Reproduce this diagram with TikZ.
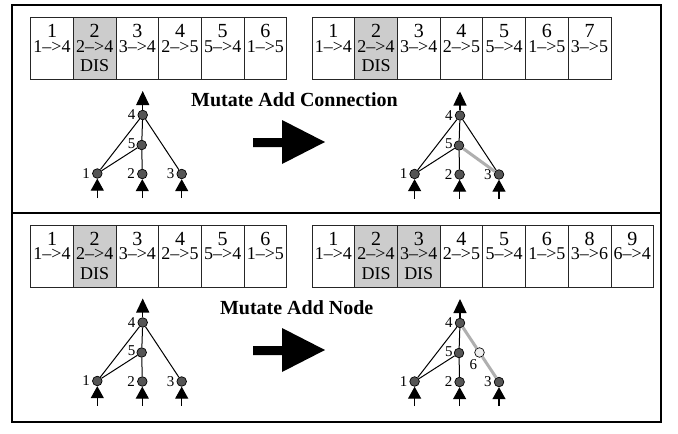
\documentclass[tikz,border=0pt]{standalone}
\usepackage{fontspec}
\setmainfont{Liberation Serif}
\usetikzlibrary{arrows.meta,calc}
\definecolor{nodegray}{HTML}{555555}
\definecolor{cellgray}{HTML}{CCCCCC}
\definecolor{newgray}{HTML}{AFAFAF}
\definecolor{lightnode}{HTML}{EEEEEE}
\newcommand{\gcell}[6]{% name, x, y, number, connection, fill
  \node[cell, anchor=north west, fill=#6] (#1) at (#2,#3) {};
  \node[numtxt, anchor=base] (#1a) at ($(#1.north)+(0,20)$) {#4};
  \node[conntxt, anchor=base] (#1b) at ($(#1.north)+(0,34.8)$) {#5};
}
\newcommand{\gdis}[1]{%
  \node[conntxt, anchor=base] (#1c) at ($(#1.north)+(0,54.4)$) {DIS};
}
\newcommand{\netnodes}[3]{% prefix, x, y
  \begin{scope}[shift={(#2,#3)}]
    \node[nn, label={[lab]left:4}] (#1n4) at (0,0) {};
    \node[nn, label={[lab,yshift=1.5pt,xshift=1pt]left:5}] (#1n5) at (-1,30) {};
    \node[nn, label={[lab]left:1}] (#1n1) at (-45.4,58.5) {};
    \node[nn, label={[lab]left:2}] (#1n2) at (-0.4,59) {};
    \node[nn, label={[lab]left:3}] (#1n3) at (39,59) {};
    \coordinate (#1out) at (0,-24);
    \coordinate (#1i1) at (-45.4,83);
    \coordinate (#1i2) at (-0.4,83);
    \coordinate (#1i3) at (39,83);
  \end{scope}
  \draw[edge] (#1n1) -- (#1n4);
  \draw[edge] (#1n1) -- (#1n5);
  \draw[edge] (#1n5) -- (#1n4);
  \draw[edge] (#1n2) -- (#1n5);
  \draw[outarr] (#1n4) -- (#1out);
  \draw[inarr] (#1i1) -- (#1n1);
  \draw[inarr] (#1i2) -- (#1n2);
  \draw[inarr] (#1i3) -- (#1n3);
}
\begin{document}
\begin{tikzpicture}[x=1pt,y=-1pt,
  label distance=1.5pt,
  frame/.style={draw=black,line width=2.5pt},
  cell/.style={draw=black!85, line width=0.8pt, minimum width=42.7pt, minimum height=62pt, inner sep=0pt, outer sep=0pt},
  numtxt/.style={font=\fontsize{20}{20}\selectfont, inner sep=0pt},
  conntxt/.style={font=\fontsize{18}{18}\selectfont, inner sep=0pt},
  titletxt/.style={font=\fontsize{20}{20}\selectfont\bfseries, inner sep=0pt},
  nn/.style={circle, draw=black, fill=nodegray, line width=0.7pt, minimum size=9.6pt, inner sep=0pt},
  newnode/.style={nn, fill=lightnode},
  lab/.style={font=\fontsize{15}{15}\selectfont, inner sep=0.5pt},
  edge/.style={line width=1pt},
  newedge/.style={line width=3pt, draw=newgray},
  outarr/.style={line width=1.2pt, -{Triangle[width=13pt,length=14pt]}},
  inarr/.style={line width=1.2pt, -{Triangle[width=13pt,length=12pt]}}
]
\useasboundingbox (0,0) rectangle (678,434);
\fill[white] (0,0) rectangle (678,434);
% frames
\draw[frame] (12,5) rectangle (661,213);
\draw[frame] (12,213) rectangle (661,422);

% ---- top left genome
\gcell{ta1}{30.7}{17.3}{1}{1-->4}{white}
\gcell{ta2}{73.37}{17.3}{2}{2-->4}{cellgray}\gdis{ta2}
\gcell{ta3}{116.04}{17.3}{3}{3-->4}{white}
\gcell{ta4}{158.71}{17.3}{4}{2-->5}{white}
\gcell{ta5}{201.38}{17.3}{5}{5-->4}{white}
\gcell{ta6}{244.05}{17.3}{6}{1-->5}{white}
% ---- top right genome
\gcell{tb1}{312}{17.3}{1}{1-->4}{white}
\gcell{tb2}{354.7}{17.3}{2}{2-->4}{cellgray}\gdis{tb2}
\gcell{tb3}{397.4}{17.3}{3}{3-->4}{white}
\gcell{tb4}{440.1}{17.3}{4}{2-->5}{white}
\gcell{tb5}{482.8}{17.3}{5}{5-->4}{white}
\gcell{tb6}{525.5}{17.3}{6}{1-->5}{white}
\gcell{tb7}{568.2}{17.3}{7}{3-->5}{white}
% ---- bottom left genome
\gcell{ba1}{30.7}{225}{1}{1-->4}{white}
\gcell{ba2}{73.37}{225}{2}{2-->4}{cellgray}\gdis{ba2}
\gcell{ba3}{116.04}{225}{3}{3-->4}{white}
\gcell{ba4}{158.71}{225}{4}{2-->5}{white}
\gcell{ba5}{201.38}{225}{5}{5-->4}{white}
\gcell{ba6}{244.05}{225}{6}{1-->5}{white}
% ---- bottom right genome
\gcell{bb1}{312}{225}{1}{1-->4}{white}
\gcell{bb2}{354.7}{225}{2}{2-->4}{cellgray}\gdis{bb2}
\gcell{bb3}{397.4}{225}{3}{3-->4}{cellgray}\gdis{bb3}
\gcell{bb4}{440.1}{225}{4}{2-->5}{white}
\gcell{bb5}{482.8}{225}{5}{5-->4}{white}
\gcell{bb6}{525.5}{225}{6}{1-->5}{white}
\gcell{bb7}{568.2}{225}{8}{3-->6}{white}
\gcell{bb8}{610.9}{225}{9}{6-->4}{white}

% titles
\node[titletxt, anchor=base] (t1) at (294.5,106) {Mutate Add Connection};
\node[titletxt, anchor=base] (t2) at (296.7,314) {Mutate Add Node};

% big arrows
\fill (253,138) -- (282,138) -- (282,120) -- (325,142) -- (282,164) -- (282,147) -- (253,147) -- cycle;
\fill (253,346) -- (282,346) -- (282,328) -- (325,350) -- (282,372) -- (282,355) -- (253,355) -- cycle;

% networks
\netnodes{A}{142.7}{115}
\draw[edge] (An3) -- (An4);

\netnodes{B}{460}{115.5}
\draw[edge] (Bn3) -- (Bn4);
\draw[newedge] (Bn3) -- (Bn5);

\netnodes{C}{142.7}{322.5}
\draw[edge] (Cn3) -- (Cn4);

\netnodes{D}{460}{323}
\node[newnode, label={[lab]255:6}] (Dn6) at ($(Dn4)!0.5!(Dn3)$) {};
\draw[newedge] (Dn4) -- (Dn6);
\draw[newedge] (Dn6) -- (Dn3);
\end{tikzpicture}
\end{document}
